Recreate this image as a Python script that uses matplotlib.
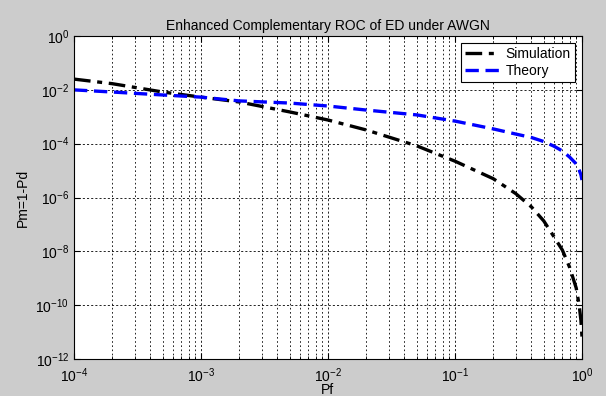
import numpy as np
import matplotlib
matplotlib.use("Agg")
import matplotlib.pyplot as plt
from matplotlib.ticker import LogLocator, NullLocator, FixedLocator

plt.rcParams['font.family'] = ['Liberation Sans', 'DejaVu Sans']
plt.rcParams['mathtext.fontset'] = 'custom'
plt.rcParams['mathtext.rm'] = 'Liberation Sans'
plt.rcParams['mathtext.it'] = 'Liberation Sans'

# values (Pf, log10 of Pm)
pf = [1e-4, 2e-4, 5e-4, 1e-3, 2e-3, 5e-3, 1e-2, 2e-2, 5e-2, 0.1,
      0.2, 0.3, 0.4, 0.5, 0.6, 0.7, 0.8, 0.9, 0.95, 0.98, 1.0]
sim_log = [-1.60, -1.77, -2.08, -2.27, -2.45, -2.82, -3.12, -3.49, -4.08, -4.65,
           -5.30, -5.85, -6.35, -6.87, -7.45, -7.95, -8.60, -9.36, -10.0, -10.55, -11.18]
theory_log = [-2.00, -2.08, -2.19, -2.27, -2.41, -2.49, -2.60, -2.75, -2.93, -3.16,
              -3.45, -3.64, -3.77, -3.92, -4.09, -4.27, -4.50, -4.75, -4.98, -5.15, -5.35]

sim = 10.0 ** np.array(sim_log)
theory = 10.0 ** np.array(theory_log)

fig = plt.figure(figsize=(6.06, 3.96), dpi=100, facecolor='#cccccc')
ax = fig.add_axes([0.1221, 0.0934, 0.8383, 0.8156])

ax.loglog(pf, sim, color='black', linestyle=(0, (5, 2, 1.5, 2)), linewidth=2.4, label='Simulation')
ax.loglog(pf, theory, color='blue', linestyle=(0, (4, 2)), linewidth=2.4, label='Theory')

ax.set_xlim(1e-4, 1)
ax.set_ylim(1e-12, 1)

ax.xaxis.set_major_locator(LogLocator(base=10, numticks=10))
ax.xaxis.set_minor_locator(LogLocator(base=10, subs=np.arange(2, 10), numticks=10))
ax.yaxis.set_major_locator(FixedLocator([10.0 ** k for k in range(-12, 1, 2)]))
ax.yaxis.set_minor_locator(NullLocator())

ax.grid(which='major', axis='both', color='black', linestyle=(0, (2.5, 2.5)), linewidth=0.6)
ax.grid(which='minor', axis='x', color='black', linestyle=(0, (2, 3)), linewidth=0.6)

ax.tick_params(which='both', direction='in', top=True, right=True, labelsize=10)
ax.tick_params(which='major', length=4)
ax.tick_params(which='minor', length=2)
ax.tick_params(axis='x', which='major', pad=5)
for s in ax.spines.values():
    s.set_linewidth(0.8)

ax.set_title('Enhanced Complementary ROC of ED under AWGN', fontsize=10, pad=4)
ax.set_xlabel('Pf', fontsize=10)
ax.xaxis.set_label_coords(0.5, -0.075)
ax.set_ylabel('Pm=1-Pd', fontsize=10, labelpad=4)

leg = ax.legend(loc='upper right', fontsize=10, frameon=True, fancybox=False,
                edgecolor='black', framealpha=1, handlelength=2.4,
                borderaxespad=0.5, borderpad=0.3, labelspacing=0.2, handletextpad=0.5)
leg.get_frame().set_linewidth(0.8)

fig.savefig('out.png', dpi=100, facecolor=fig.get_facecolor())
